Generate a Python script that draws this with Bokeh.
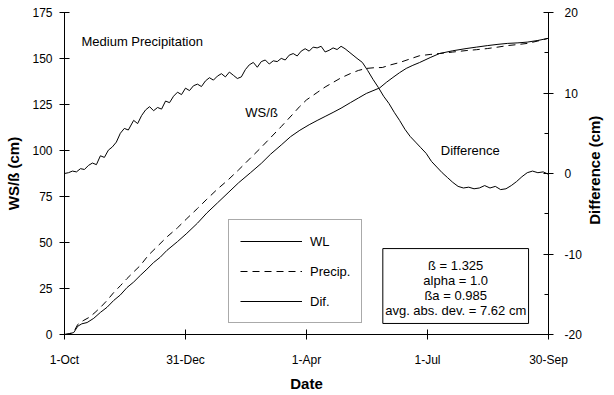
import math
from bokeh.plotting import figure
from bokeh.layouts import row
from bokeh.models import (Range1d, LinearAxis, FixedTicker, Legend, LegendItem,
                          Label, BoxAnnotation)
from bokeh.core.properties import value
from bokeh.embed import file_html
from bokeh.resources import INLINE

# ---------------- data ----------------
tick_days = [0, 91, 182, 273, 364]
tick_labels = ["1-Oct", "31-Dec", "1-Apr", "1-Jul", "30-Sep"]
left_ticks = [0, 25, 50, 75, 100, 125, 150, 175]
right_ticks = [-20, -10, 0, 10, 20]
right_tick_labels = ["-20", "-10", "0", "10", "20"]
right_minor = [-15, -5, 5, 15]

wl_day = [0, 4, 7, 10, 13, 17, 22, 27, 32, 37, 42, 47, 52, 57, 62, 67, 72, 77,
          85, 92, 100, 107, 115, 123, 131, 140, 148, 155, 163, 170, 177, 184,
          190, 196, 202, 208, 215, 221, 227, 232, 237, 242, 247, 252, 257, 262,
          267, 275, 282, 292, 302, 310, 318, 326, 333, 341, 348, 356, 364]
wl_val = [0.0, 0.4, 1.1, 4.5, 5.8, 6.5, 8.8, 12.0, 14.8, 18.5, 21.5, 25.5, 28.5,
          32.1, 35.5, 39.1, 42.0, 45.7, 50.5, 55.0, 60.5, 66.0, 71.5, 77.0, 82.5,
          88.0, 93.0, 98.0, 103.0, 107.5, 111.0, 114.0, 116.3, 118.5, 120.7,
          123.0, 126.0, 128.5, 131.0, 132.5, 134.0, 137.0, 139.7, 142.3, 144.6,
          146.3, 147.8, 150.5, 152.7, 154.2, 155.4, 156.2, 157.0, 157.7, 158.2,
          158.5, 158.9, 159.8, 161.0]

pr_day = [0, 4, 7, 10, 14, 19, 23, 27, 32, 37, 42, 47, 52, 57, 63, 70, 77, 85,
          92, 100, 107, 115, 123, 131, 140, 147, 155, 163, 172, 177, 182, 190,
          196, 202, 208, 215, 221, 227, 233, 239, 245, 252, 260, 267, 275, 282,
          292, 302, 310, 318, 326, 333, 341, 348, 356, 364]
pr_val = [0.0, 0.5, 1.5, 5.5, 7.5, 9.5, 12.0, 14.7, 18.5, 22.8, 26.5, 30.4, 34.0,
          37.5, 43.0, 48.0, 53.0, 58.0, 63.0, 68.5, 73.5, 79.0, 84.0, 89.5, 96.0,
          101.0, 107.0, 113.0, 120.0, 124.0, 127.5, 131.5, 134.5, 137.0, 139.5,
          141.8, 143.5, 144.6, 145.0, 145.1, 146.5, 147.8, 149.8, 151.5, 152.2,
          152.7, 153.5, 154.3, 154.8, 155.4, 156.2, 157.0, 157.6, 158.2, 159.5,
          161.0]

dif_day = [0, 3, 6, 9, 12, 15, 18, 21, 24, 27,
           30, 33, 36, 39, 42, 45, 48, 52, 55, 58,
           61, 64, 67, 70, 73, 76, 79, 82, 85, 88,
           91, 94, 97, 100, 103, 106, 109, 112, 115, 118,
           121, 124, 127, 130, 133, 136, 139, 142, 145, 148,
           151, 154, 157, 160, 163, 166, 169, 172, 175, 178,
           181, 184, 187, 190, 193, 196, 199, 202, 205, 208,
           211, 214, 217, 220, 224, 228, 232, 236, 240, 244,
           248, 252, 256, 260, 264, 268, 272, 276, 280, 284,
           288, 292, 296, 300, 304, 308, 312, 316, 320, 324,
           328, 332, 336, 340, 344, 348, 352, 356, 360, 364]
dif_val = [0.0, 0.1, 0.3, 0.2, 0.6, 0.5, 1.0, 1.3, 1.1, 2.2,
           2.0, 2.9, 3.3, 3.9, 5.0, 5.6, 5.4, 6.6, 6.2, 7.2,
           7.9, 8.3, 7.8, 8.2, 8.0, 9.0, 8.8, 9.6, 10.1, 9.8,
           10.6, 10.3, 10.9, 11.1, 10.8, 11.5, 11.9, 11.6, 12.1, 12.4,
           12.0, 12.6, 12.2, 11.8, 12.0, 12.9, 13.5, 13.8, 13.2, 13.9,
           14.1, 13.6, 14.0, 13.9, 14.3, 14.1, 14.7, 14.9, 14.6, 15.2,
           15.5, 15.2, 15.7, 15.6, 15.8, 15.1, 15.3, 15.6, 15.4, 15.8,
           15.5, 15.1, 14.7, 14.3, 13.8, 12.8, 11.7, 10.7, 9.6, 8.7,
           7.6, 6.6, 5.5, 4.6, 3.9, 3.2, 2.5, 1.5, 0.8, 0.1,
           -0.5, -1.1, -1.6, -1.8, -1.7, -1.9, -1.8, -1.5, -1.8, -1.6,
           -2.0, -1.9, -1.5, -1.0, -0.4, 0.1, 0.3, 0.1, 0.2, -0.1]

params = ["\u00df = 1.325", "alpha = 1.0", "\u00dfa = 0.985",
          "avg. abs. dev. = 7.62 cm"]
right_title = "Difference (cm)"

# ---------------- figure ----------------
FONT = "Liberation Sans"
H = 394

p = figure(width=584, height=H, output_backend="svg", toolbar_location=None,
           x_range=Range1d(0, 364), y_range=Range1d(0, 175),
           min_border_left=64, min_border_right=35, min_border_top=12,
           min_border_bottom=60)
p.extra_y_ranges = {"dif": Range1d(-20, 20)}
p.outline_line_color = None
p.xgrid.visible = False
p.ygrid.visible = False
p.background_fill_color = "white"
p.border_fill_color = "white"


def style_axis(ax, standoff):
    ax.axis_line_color = "black"
    ax.axis_line_width = 1
    ax.major_tick_in = 5
    ax.major_tick_out = 5
    ax.major_tick_line_color = "black"
    ax.minor_tick_line_color = "black"
    ax.major_label_text_font = FONT
    ax.major_label_text_font_size = "12px"
    ax.major_label_text_color = "black"
    ax.major_label_standoff = standoff
    ax.axis_label_text_font = FONT
    ax.axis_label_text_font_size = "15px"
    ax.axis_label_text_font_style = "bold"
    ax.axis_label_text_color = "black"


xa = p.xaxis[0]
xa.ticker = FixedTicker(ticks=tick_days, minor_ticks=[])
xa.major_label_overrides = {d: t for d, t in zip(tick_days, tick_labels)}
xa.axis_label = "Date"
style_axis(xa, 13)
xa.axis_label_standoff = 5

ya = p.yaxis[0]
ya.ticker = FixedTicker(ticks=left_ticks, minor_ticks=[])
ya.axis_label = "WS/\u00df (cm)"
style_axis(ya, 7)
ya.axis_label_standoff = 7

ra = LinearAxis(y_range_name="dif",
                ticker=FixedTicker(ticks=right_ticks, minor_ticks=right_minor))
style_axis(ra, 11)
ra.major_label_overrides = {v: t for v, t in zip(right_ticks, right_tick_labels)}
ra.minor_tick_in = 4
ra.minor_tick_out = 0
p.add_layout(ra, "right")

# ---------------- lines ----------------
r_wl = p.line(wl_day, wl_val, line_color="black", line_width=1)
r_pr = p.line(pr_day, pr_val, line_color="black", line_width=1,
              line_dash="7 5")
r_dif = p.line(dif_day, dif_val, line_color="black", line_width=1,
               y_range_name="dif")

# ---------------- legend ----------------
legend = Legend(items=[LegendItem(label="WL", renderers=[r_wl]),
                       LegendItem(label="Precip.", renderers=[r_pr]),
                       LegendItem(label="Dif.", renderers=[r_dif])],
                location=(164, 11), orientation="vertical",
                padding=11, spacing=10, margin=0,
                glyph_width=62, glyph_height=20, label_height=20,
                label_standoff=8,
                label_text_font=FONT, label_text_font_size="13px",
                label_text_color="black",
                border_line_color="#555555", border_line_width=1,
                background_fill_color="white", background_fill_alpha=1.0)
p.add_layout(legend, "center")

# ---------------- annotations ----------------
def txt(x, y, s, align="left", size="13px"):
    p.add_layout(Label(x=x, y=y, text=s, text_font=FONT, text_font_size=size,
                       text_align=align, text_baseline="middle",
                       text_color="black"))

txt(12.8, 159.2, "Medium Precipitation")
txt(136, 120.6, "WS/\u00df")
txt(283, 100, "Difference")

p.add_layout(BoxAnnotation(left=239.4, right=349.0, bottom=6.0, top=46.7,
                           fill_color="white", fill_alpha=1.0,
                           line_color="black", line_width=1, line_alpha=1.0))
for s, yy in zip(params, [37.5, 29.3, 21.2, 13.0]):
    txt(294.2, yy, s, align="center")

# ---------------- right-hand axis title strip ----------------
p2 = figure(width=24, height=H, output_backend="svg", toolbar_location=None,
            x_range=Range1d(0, 1), y_range=Range1d(0, H), min_border=0,
            x_axis_location=None, y_axis_location=None)
p2.xgrid.visible = False
p2.ygrid.visible = False
p2.outline_line_color = None
p2.text(x=[0.4], y=[H - 193], text=[right_title], angle=math.pi / 2,
        text_align="center", text_baseline="middle",
        text_font=value(FONT), text_font_style="bold",
        text_font_size=value("15px"), text_color="black")

layout = row(p, p2, spacing=0)
open("out.html", "w").write(file_html(layout, INLINE))
